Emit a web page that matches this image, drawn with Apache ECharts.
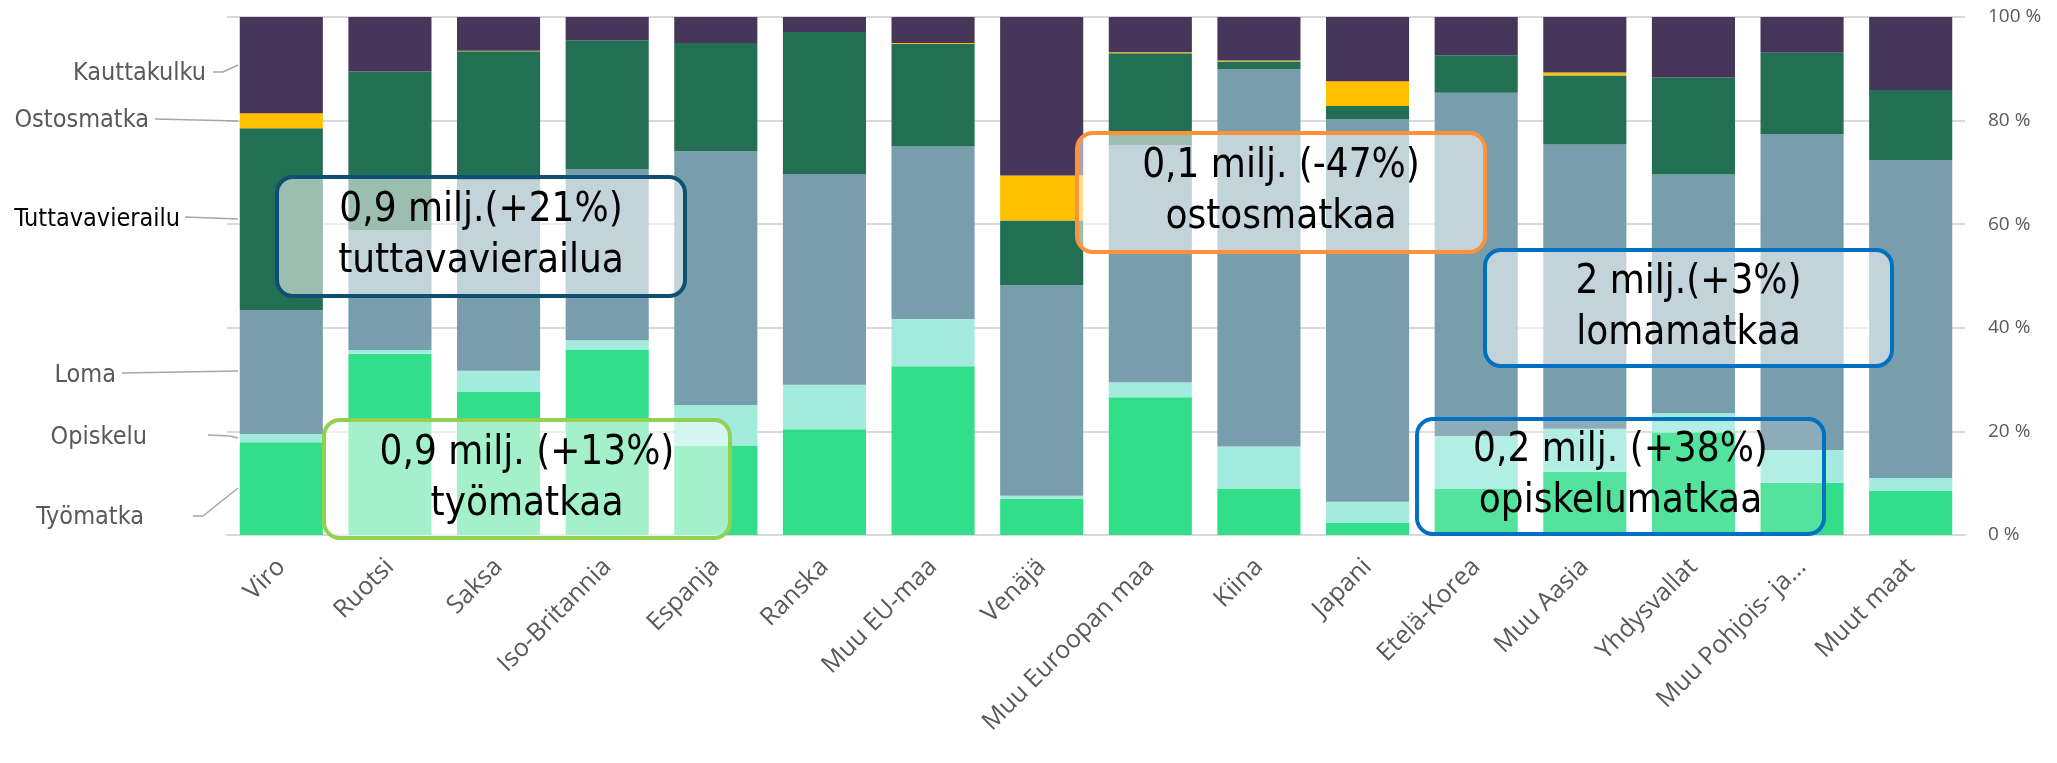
<!DOCTYPE html>
<html>
<head>
<meta charset="utf-8">
<script src="https://cdn.jsdelivr.net/npm/echarts@6/dist/echarts.min.js"></script>
<style>
html,body{margin:0;padding:0;background:#ffffff;}
#chart{width:2057px;height:763px;}
</style>
</head>
<body>
<div id="chart"></div>
<script>
// ---- data (shares of trips, %) ----
const categories = ['Viro','Ruotsi','Saksa','Iso-Britannia','Espanja','Ranska','Muu EU-maa','Venäjä',
  'Muu Euroopan maa','Kiina','Japani','Etelä-Korea','Muu Aasia','Yhdysvallat','Muu Pohjois- ja...','Muut maat'];
const seriesNames = ['Työmatka','Opiskelu','Loma','Tuttavavierailu','Ostosmatka','Kauttakulku'];
const tyomatka        = [17.9, 35.0, 27.6, 35.7, 17.3, 20.4, 32.6,  7.0, 26.6,  9.0,  2.4,  9.0, 12.2, 19.8, 10.1,  8.6];
const opiskelu        = [ 1.6,  0.7,  4.1,  1.9,  7.8,  8.6,  9.1,  0.6,  2.9,  8.1,  4.0, 10.1,  8.3,  3.7,  6.3,  2.4];
const loma            = [23.9, 23.2, 36.8, 33.0, 49.0, 40.7, 33.3, 40.6, 45.8, 72.8, 73.9, 66.3, 54.9, 46.1, 61.0, 61.4];
const tuttavavierailu = [35.1, 30.6, 24.9, 24.9, 20.9, 27.4, 19.8, 12.5, 17.7,  1.5,  2.5,  7.2, 13.3, 18.7, 15.7, 13.5];
const ostosmatka      = [ 2.9,  0.0,  0.1,  0.0,  0.0,  0.0,  0.2,  8.7,  0.2,  0.2,  4.8,  0.0,  0.6,  0.0,  0.0,  0.0];
const kauttakulku     = [18.6, 10.5,  6.5,  4.5,  5.0,  2.9,  5.0, 30.6,  6.8,  8.4, 12.4,  7.4, 10.7, 11.7,  6.9, 14.1];
const yTickValues = [0, 20, 40, 60, 80, 100];
const annotations = [
  '0,9 milj.(+21%)\ntuttavavierailua',
  '0,9 milj. (+13%)\ntyömatkaa',
  '0,1 milj. (-47%)\nostosmatkaa',
  '2 milj.(+3%)\nlomamatkaa',
  '0,2 milj. (+38%)\nopiskelumatkaa'
];

const seriesData = [tyomatka, opiskelu, loma, tuttavavierailu, ostosmatka, kauttakulku];
const colors = ['#33DE8A', '#A4EBDF', '#789DAD', '#236F53', '#FFC000', '#46365A'];

const condensed = '"DejaVu Sans Condensed", "Liberation Sans Narrow", "DejaVu Sans", sans-serif';

const chart = echarts.init(document.getElementById('chart'), null, {renderer: 'canvas'});

const series = seriesNames.map((name, i) => ({
  name: name,
  type: 'bar',
  stack: 'total',
  barCategoryGap: '23.5%',
  itemStyle: {color: colors[i]},
  emphasis: {disabled: true},
  data: seriesData[i]
}));

// annotation boxes (layout)
const boxes = [
  {x: 277, y: 177, w: 408, h: 119, stroke: '#0E4F72', fill: 'rgba(255,255,255,0.55)'},
  {x: 324, y: 420, w: 406, h: 118, stroke: '#92D050', fill: 'rgba(255,255,255,0.55)'},
  {x: 1077, y: 133, w: 408, h: 119, stroke: '#FF913A', fill: 'rgba(255,255,255,0.55)'},
  {x: 1485, y: 250, w: 407, h: 116, stroke: '#0070C0', fill: 'rgba(255,255,255,0.55)'},
  {x: 1417, y: 419, w: 407, h: 115, stroke: '#0070C0', fill: 'rgba(255,255,255,0.16)'}
];

const graphics = [];
boxes.forEach((b, i) => {
  graphics.push({
    type: 'rect', z: 100,
    shape: {x: b.x, y: b.y, width: b.w, height: b.h, r: 16},
    style: {fill: b.fill, stroke: b.stroke, lineWidth: 4}
  });
  graphics.push({
    type: 'text', z: 101,
    x: b.x + b.w / 2, y: b.y + b.h / 2,
    style: {
      text: annotations[i], align: 'center', verticalAlign: 'middle',
      fontSize: 40, lineHeight: 51, fontFamily: condensed, fill: '#000000'
    }
  });
});

// left-side labels with leader lines
const leftLabels = [
  {text: 'Kauttakulku', tx: 206, ty: 73, color: '#595959', pts: [[213, 72], [223, 72], [238, 65]]},
  {text: 'Ostosmatka', tx: 149, ty: 120, color: '#595959', pts: [[155, 119], [238, 121]]},
  {text: 'Tuttavavierailu', tx: 180, ty: 219, color: '#000000', pts: [[185, 217], [238, 219]]},
  {text: 'Loma', tx: 116, ty: 375, color: '#595959', pts: [[122, 373], [238, 371]]},
  {text: 'Opiskelu', tx: 147, ty: 437, color: '#595959', pts: [[208, 435], [230, 436], [238, 438]]},
  {text: 'Työmatka', tx: 144, ty: 517, color: '#595959', pts: [[193, 516], [203, 516], [238, 488]]}
];
leftLabels.forEach(l => {
  graphics.push({
    type: 'text', z: 50, x: l.tx, y: l.ty,
    style: {text: l.text, align: 'right', verticalAlign: 'middle', fontSize: 25, fontFamily: condensed, fill: l.color}
  });
  graphics.push({
    type: 'polyline', z: 50,
    shape: {points: l.pts},
    style: {stroke: '#A6A6A6', lineWidth: 1.5, fill: null}
  });
});

chart.setOption({
  animation: false,
  backgroundColor: '#ffffff',
  grid: {left: 227, right: 92, top: 17, bottom: 228, containLabel: false},
  xAxis: {
    type: 'category',
    data: categories,
    axisLine: {show: true, lineStyle: {color: '#D9D9D9', width: 2}},
    axisTick: {show: false},
    axisLabel: {
      rotate: 45, margin: 28, interval: 0,
      color: '#595959', fontSize: 25, fontFamily: '"Open Sans", "Noto Sans", sans-serif'
    }
  },
  yAxis: {
    type: 'value',
    position: 'right',
    min: yTickValues[0], max: yTickValues[yTickValues.length - 1], interval: 20,
    axisLine: {show: false},
    axisTick: {show: false},
    splitLine: {show: true, lineStyle: {color: '#D9D9D9', width: 2}},
    axisLabel: {
      margin: 23, color: '#595959', fontSize: 19,
      fontFamily: '"Open Sans", "Noto Sans", sans-serif',
      formatter: v => v + ' %'
    }
  },
  series: series,
  graphic: graphics
});
</script>
</body>
</html>
